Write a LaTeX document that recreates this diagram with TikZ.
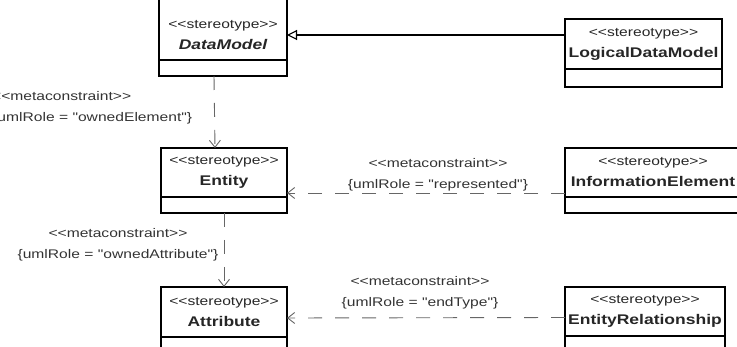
\documentclass[tikz,border=0pt]{standalone}
\usepackage{fontspec}
\newfontfamily\umlfont[FakeStretch=1.25]{Liberation Sans}
\usetikzlibrary{arrows.meta,positioning}

\tikzset{
  classname/.style={draw,line width=1.1pt,outer sep=0pt,inner sep=0pt,align=center,minimum height=49pt,
    font=\umlfont\fontsize{12.5}{21}\selectfont,text=black!85},
  classattr/.style={draw,line width=1.1pt,outer sep=0pt,inner sep=0pt,minimum height=16pt},
  metalabel/.style={inner sep=0pt,align=center,font=\umlfont\fontsize{12.5}{21}\selectfont,text=black!80},
  depend/.style={draw=black!60,line width=0.9pt,dash pattern=on 14pt off 13pt,
    -{Straight Barb[length=7pt,width=11pt]}},
  generalize/.style={line width=1.1pt,-{Triangle[open,length=10pt,width=10pt,fill=white]}}
}

\begin{document}
\begin{tikzpicture}[x=1pt,y=-1pt]
    \useasboundingbox (0,0) rectangle (737,347);
    \clip (0,0) rectangle (737,347);

    % DataModel (top edge out of view)
    \node[classname,draw=none,minimum width=128pt,minimum height=50pt] (dm) at (223,35)
        {<<stereotype>>\\{\bfseries\itshape\fontsize{14}{21}\selectfont DataModel}};
    \draw[line width=1.1pt] ([yshift=20pt]dm.north west) -- (dm.south west);
    \draw[line width=1.1pt] ([yshift=20pt]dm.north east) -- (dm.south east);
    \node[classattr,minimum width=128pt,below=0pt of dm] (dm-a) {};

    % LogicalDataModel
    \node[classname,minimum width=157pt,minimum height=50pt] (ldm) at (643.5,44)
        {<<stereotype>>\\{\bfseries\fontsize{14}{21}\selectfont LogicalDataModel}};
    \node[classattr,minimum width=157pt,minimum height=18pt,below=0pt of ldm] (ldm-a) {};

    % Entity
    \node[classname,minimum width=126pt] (ent) at (224,172.5)
        {<<stereotype>>\\{\bfseries\fontsize{14}{21}\selectfont Entity}};
    \node[classattr,minimum width=126pt,below=0pt of ent] (ent-a) {};

    % InformationElement (right edge out of view)
    \node[classname,minimum width=176pt] (ie) at (653,172.5)
        {<<stereotype>>\\{\bfseries\fontsize{14}{21}\selectfont InformationElement}};
    \node[classattr,minimum width=176pt,below=0pt of ie] (ie-a) {};

    % Attribute
    \node[classname,minimum width=126pt,minimum height=50pt] (att) at (224,312)
        {<<stereotype>>\\{\bfseries\fontsize{14}{21}\selectfont Attribute}};
    \node[classattr,minimum width=126pt,below=0pt of att] (att-a) {};

    % EntityRelationship
    \node[classname,minimum width=160pt] (er) at (645,311.5)
        {<<stereotype>>\\{\bfseries\fontsize{14}{21}\selectfont EntityRelationship}};
    \node[classattr,minimum width=160pt,below=0pt of er] (er-a) {};

    % Generalization
    \draw[generalize] (dm.east -| ldm.west) -- (dm.east);

    % Metaconstraints
    \draw[depend] ([xshift=-9pt]dm-a.south) -- ([xshift=-9pt]ent.north);
    \node[metalabel,align=left,anchor=west] (own-el) at (-8,107.5)
        {<<metaconstraint>>\\\{umlRole = "ownedElement"\}};

    \draw[depend] (ent-a.south) -- (att.north);
    \node[metalabel] (own-att) at (118,244.5)
        {<<metaconstraint>>\\\{umlRole = "ownedAttribute"\}};

    \draw[depend] ([yshift=-20.5pt]ie.west) -- ([yshift=-20.5pt]ent.east);
    \node[metalabel] (repr) at (438,174.5)
        {<<metaconstraint>>\\\{umlRole = "represented"\}};

    \draw[depend] ([yshift=-6pt]er.west) -- ([yshift=-6pt]att.east);
    \node[metalabel] (end-type) at (420,293)
        {<<metaconstraint>>\\\{umlRole = "endType"\}};
\end{tikzpicture}
\end{document}
